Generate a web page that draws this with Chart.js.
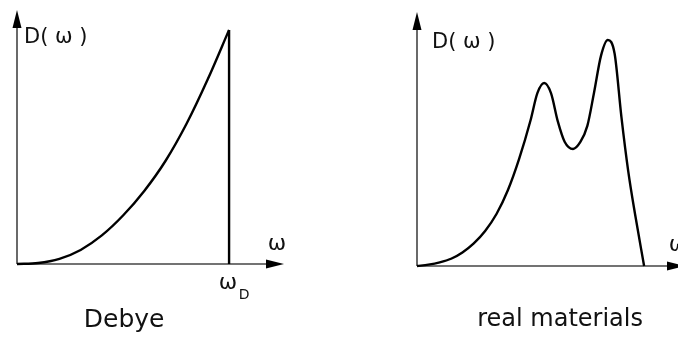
<!DOCTYPE html>
<html>
<head>
<meta charset="utf-8">
<script src="https://cdn.jsdelivr.net/npm/chart.js@4"></script>
<style>
  body { margin: 0; background: #fff; overflow: hidden; }
  .painel { position: absolute; top: 0; height: 341px; }
  #painel_debye { left: 0; width: 339px; }
  #painel_real { left: 339px; width: 360px; }
</style>
</head>
<body>
<div class="painel" id="painel_debye"><canvas id="graficoDebye"></canvas></div>
<div class="painel" id="painel_real"><canvas id="graficoReal"></canvas></div>
<script>
// Debye: D(w) ate w_D (w_D = 1, D(w_D) = 1)
var debyeW = [0, 0.1, 0.2, 0.3, 0.4, 0.5, 0.6, 0.7, 0.8, 0.9, 1.0];
var debyeD = [0, 0.004, 0.022, 0.06, 0.122, 0.207, 0.312, 0.44, 0.60, 0.79, 1.0];
var corteW = [1.0, 1.0];
var corteD = [1.0, 0];

// materiais reais: dois picos
var realW = [0, 0.5, 1.0, 1.5, 2.0, 2.5, 3.0, 3.5, 4.0, 4.5, 5.0, 5.3, 5.6, 5.9, 6.2, 6.5, 6.87, 7.2, 7.5, 7.8, 8.1, 8.4, 8.7, 9.0, 9.3, 9.6, 10.0];
var realD = [0, 0.006, 0.016, 0.032, 0.06, 0.10, 0.155, 0.23, 0.335, 0.475, 0.645, 0.765, 0.81, 0.765, 0.64, 0.55, 0.518, 0.55, 0.62, 0.77, 0.93, 1.0, 0.94, 0.66, 0.42, 0.23, 0];

var fonte = '"DejaVu Sans", sans-serif';

function pontos(xs, ys) {
    var lista = [];
    for (let i = 0; i < xs.length; i++) {
        lista.push({ x: xs[i], y: ys[i] });
    }
    return lista;
}

function seta(ctx, x1, y1, x2, y2) {
    var ang = Math.atan2(y2 - y1, x2 - x1);
    var comp = 18, larg = 4.5;
    ctx.beginPath();
    ctx.moveTo(x1, y1);
    ctx.lineTo(x2 - comp * Math.cos(ang), y2 - comp * Math.sin(ang));
    ctx.stroke();
    ctx.beginPath();
    ctx.moveTo(x2, y2);
    ctx.lineTo(x2 - comp * Math.cos(ang) + larg * Math.sin(ang), y2 - comp * Math.sin(ang) - larg * Math.cos(ang));
    ctx.lineTo(x2 - comp * Math.cos(ang) - larg * Math.sin(ang), y2 - comp * Math.sin(ang) + larg * Math.cos(ang));
    ctx.closePath();
    ctx.fill();
}

// desenha os eixos com setas e os textos
function pluginEixos(textos) {
    return {
        id: 'eixos',
        beforeDatasetsDraw: function (chart) {
            var ctx = chart.ctx;
            var sx = chart.scales.x, sy = chart.scales.y;
            var x0 = sx.getPixelForValue(0), y0 = sy.getPixelForValue(0);
            ctx.save();
            ctx.strokeStyle = '#444';
            ctx.fillStyle = '#000';
            ctx.lineWidth = 1.6;
            seta(ctx, x0, y0, sx.getPixelForValue(sx.max), y0);
            seta(ctx, x0, y0, x0, sy.getPixelForValue(sy.max));
            ctx.restore();
        },
        afterDraw: function (chart) {
            var ctx = chart.ctx;
            var sx = chart.scales.x, sy = chart.scales.y;
            ctx.save();
            ctx.fillStyle = '#111';
            ctx.textBaseline = 'middle';
            for (let i = 0; i < textos.length; i++) {
                var t = textos[i];
                ctx.font = t.tam + 'px ' + fonte;
                ctx.textAlign = t.alinhar || 'left';
                ctx.fillText(t.texto, sx.getPixelForValue(t.x) + (t.dx || 0), sy.getPixelForValue(t.y) + (t.dy || 0));
            }
            ctx.restore();
        }
    };
}

function opcoes(xMax, yMax, padding) {
    return {
        responsive: true,
        maintainAspectRatio: false,
        animation: false,
        layout: { padding: padding },
        plugins: { legend: { display: false }, tooltip: { enabled: false } },
        elements: { point: { radius: 0 } },
        scales: {
            x: { type: 'linear', min: 0, max: xMax, display: false },
            y: { type: 'linear', min: 0, max: yMax, display: false }
        }
    };
}

const graficoDebye = new Chart(document.getElementById('graficoDebye'), {
    type: 'line',
    data: {
        datasets: [{
            data: pontos(debyeW, debyeD),
            borderColor: '#000',
            borderWidth: 2.4,
            cubicInterpolationMode: 'monotone',
            clip: false
        }, {
            data: pontos(corteW, corteD),
            borderColor: '#000',
            borderWidth: 2.4,
            tension: 0,
            clip: false
        }]
    },
    options: opcoes(1.259, 1.085, { left: 17, top: 10, right: 55, bottom: 77 }),
    plugins: [pluginEixos([
        { texto: 'D( ω )', x: 0, y: 1.085, dx: 7, dy: 28, tam: 21 },
        { texto: 'ω', x: 1.259, y: 0, dx: -7, dy: -20, tam: 22, alinhar: 'center' },
        { texto: 'ω', x: 1.0, y: 0, dx: -1, dy: 19, tam: 22, alinhar: 'center' },
        { texto: 'D', x: 1.0, y: 0, dx: 15, dy: 31, tam: 14, alinhar: 'center' },
        { texto: 'Debye', x: 0.505, y: 0, dy: 56, tam: 25, alinhar: 'center' }
    ])]
});

const graficoReal = new Chart(document.getElementById('graficoReal'), {
    type: 'line',
    data: {
        datasets: [{
            data: pontos(realW, realD),
            borderColor: '#000',
            borderWidth: 2.4,
            cubicInterpolationMode: 'monotone',
            clip: false
        }]
    },
    options: opcoes(11.8, 1.124, { left: 78, top: 12, right: 14, bottom: 75 }),
    plugins: [pluginEixos([
        { texto: 'D( ω )', x: 0, y: 1.124, dx: 15, dy: 31, tam: 21 },
        { texto: 'ω', x: 11.8, y: 0, dx: -7, dy: -21, tam: 22, alinhar: 'center' },
        { texto: 'real materials', x: 6.3, y: 0, dy: 54, tam: 24, alinhar: 'center' }
    ])]
});
</script>
</body>
</html>
